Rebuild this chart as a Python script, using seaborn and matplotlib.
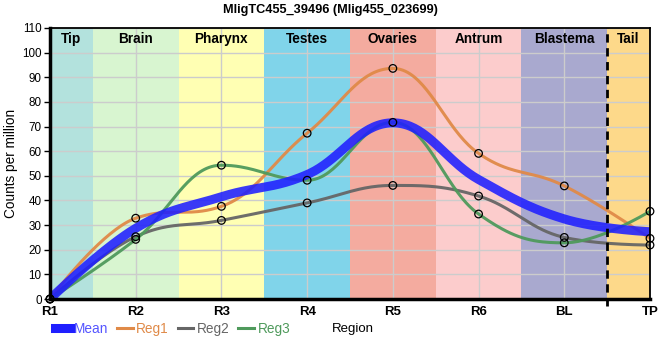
import numpy as np
import pandas as pd
import matplotlib
matplotlib.use("Agg")
import matplotlib.pyplot as plt
import seaborn as sns
from matplotlib.lines import Line2D


# -----------------------------
# 1. Data
# -----------------------------
samples = ["R1", "R2", "R3", "R4", "R5", "R6", "BL", "TP"]
mean_cpm = [0, 28.7, 41.5, 50.5, 71.5, 48.5, 32.5, 27.3]
reg1_cpm = [0, 32.8, 37.6, 67.3, 93.6, 59.1, 45.9, 24.6]
reg2_cpm = [0, 25.3, 31.9, 39.0, 46.1, 41.8, 25.0, 21.9]
reg3_cpm = [0, 24.2, 54.3, 48.2, 71.7, 34.5, 22.8, 35.6]

regions = ["Tip", "Brain", "Pharynx", "Testes", "Ovaries", "Antrum", "Blastema", "Tail"]
region_colors = ["#b3e2dd", "#d8f5d0", "#ffffb3", "#80d4ea",
                 "#f4ab9f", "#fccccc", "#a9a9cf", "#fdd98a"]

series = {"Mean": mean_cpm, "Reg1": reg1_cpm, "Reg2": reg2_cpm, "Reg3": reg3_cpm}
colors = {"Mean": "#1f1fff", "Reg1": "#e08a48", "Reg2": "#666666", "Reg3": "#4f9a5c"}
widths = {"Mean": 6.5, "Reg1": 2.2, "Reg2": 2.2, "Reg3": 2.2}

plt.rcParams["font.family"] = ["Liberation Sans", "DejaVu Sans"]


# -----------------------------
# 2. Smooth spline path (bezier with clamped control points)
# -----------------------------
def spline_path(xs, ys, smoothing=1.5, n=40):
    xs = np.asarray(xs, float)
    ys = np.asarray(ys, float)
    m = len(xs)
    left = [(xs[i], ys[i]) for i in range(m)]
    right = [(xs[i], ys[i]) for i in range(m)]
    denom = smoothing + 1
    for i in range(1, m - 1):
        px, py = xs[i], ys[i]
        lx, ly = xs[i - 1], ys[i - 1]
        nx, ny = xs[i + 1], ys[i + 1]
        lcx = (smoothing * px + lx) / denom
        lcy = (smoothing * py + ly) / denom
        rcx = (smoothing * px + nx) / denom
        rcy = (smoothing * py + ny) / denom
        corr = (rcy - lcy) * (rcx - px) / (rcx - lcx) + py - rcy
        lcy += corr
        rcy += corr
        if lcy > ly and lcy > py:
            lcy = max(ly, py); rcy = 2 * py - lcy
        elif lcy < ly and lcy < py:
            lcy = min(ly, py); rcy = 2 * py - lcy
        if rcy > ny and rcy > py:
            rcy = max(ny, py); lcy = 2 * py - rcy
        elif rcy < ny and rcy < py:
            rcy = min(ny, py); lcy = 2 * py - rcy
        left[i] = (lcx, lcy)
        right[i] = (rcx, rcy)
    t = np.linspace(0, 1, n)[:, None]
    out = []
    for i in range(1, m):
        p0 = np.array([xs[i - 1], ys[i - 1]])
        p1 = np.array(right[i - 1])
        p2 = np.array(left[i])
        p3 = np.array([xs[i], ys[i]])
        seg = ((1 - t) ** 3) * p0 + 3 * ((1 - t) ** 2) * t * p1 + 3 * (1 - t) * t ** 2 * p2 + t ** 3 * p3
        out.append(seg if i == 1 else seg[1:])
    return np.vstack(out)


# -----------------------------
# 3. Figure
# -----------------------------
fig = plt.figure(figsize=(6.6, 3.6), dpi=100)
ax = fig.add_axes([50 / 660, 1 - 299 / 360, 600 / 660, 271 / 360])

xpos = np.arange(len(samples))

# region bands
for i, (name, col) in enumerate(zip(regions, region_colors)):
    lo = max(i - 0.5, 0)
    hi = min(i + 0.5, len(samples) - 1)
    ax.axvspan(lo, hi, color=col, zorder=0, lw=0)
    ax.text((lo + hi) / 2, 105.5, name, ha="center", va="center",
            fontsize=9.8, fontweight="bold", zorder=5)

ax.axvline(6.5, ymin=-0.025, ymax=1, color="black", ls=(0, (3, 2)), lw=2,
           zorder=6, clip_on=False)

# curves
for name in ["Reg1", "Reg2", "Reg3", "Mean"]:
    pts = spline_path(xpos, series[name])
    df = pd.DataFrame({"x": pts[:, 0], "y": pts[:, 1]})
    sns.lineplot(data=df, x="x", y="y", sort=False, estimator=None, ax=ax,
                 color=colors[name], lw=widths[name],
                 alpha=0.88 if name == "Mean" else 0.95, zorder=3 if name != "Mean" else 4,
                 solid_capstyle="butt")

# markers for the replicate points
marks = pd.DataFrame({
    "x": np.tile(xpos, 3),
    "y": reg1_cpm + reg2_cpm + reg3_cpm,
})
sns.scatterplot(data=marks, x="x", y="y", ax=ax, s=30, facecolor="none",
                edgecolor="black", linewidth=0.9, zorder=7, clip_on=False)

ax.set_xlim(0, len(samples) - 1)
ax.set_ylim(0, 110)
ax.set_xticks(xpos)
ax.set_xticklabels(samples, fontweight="bold", fontsize=9.5)
ax.set_yticks(np.arange(0, 111, 10))
ax.tick_params(axis="y", labelsize=8.4, length=4, width=1, pad=2)
ax.tick_params(axis="x", length=0, pad=5)
ax.grid(True, color="#cccccc", lw=1, zorder=1)
ax.set_axisbelow(False)
for gl in ax.get_xgridlines() + ax.get_ygridlines():
    gl.set_zorder(1)
for sp in ax.spines.values():
    sp.set_color("black")
    sp.set_linewidth(1.3)
    sp.set_zorder(8)
ax.spines["bottom"].set_linewidth(2.5)
ax.spines["left"].set_linewidth(2.5)

ax.set_ylabel("Counts per million", fontsize=9.8, labelpad=3)
ax.set_xlabel("")
fig.text(332 / 660, 1 - 329 / 360, "Region", ha="left", va="center", fontsize=9.5)

fig.suptitle("MligTC455_39496 (Mlig455_023699)", y=1 - 10 / 360, va="center",
             fontsize=9.2, fontweight="bold")

handles = [Line2D([0], [0], color=colors[k], lw=(6.5 if k == "Mean" else 2.2)) for k in series]
leg = fig.legend(handles, list(series.keys()), loc="center left",
                 bbox_to_anchor=(55 / 660, 1 - 329 / 360), ncol=4, frameon=False,
                 fontsize=9.8, handlelength=1.15, handletextpad=0.25, columnspacing=0.65,
                 borderaxespad=0, borderpad=0)
for txt, k in zip(leg.get_texts(), series):
    txt.set_color(colors[k] if k != "Mean" else "#5555ff")

fig.savefig("out.png", dpi=100)
